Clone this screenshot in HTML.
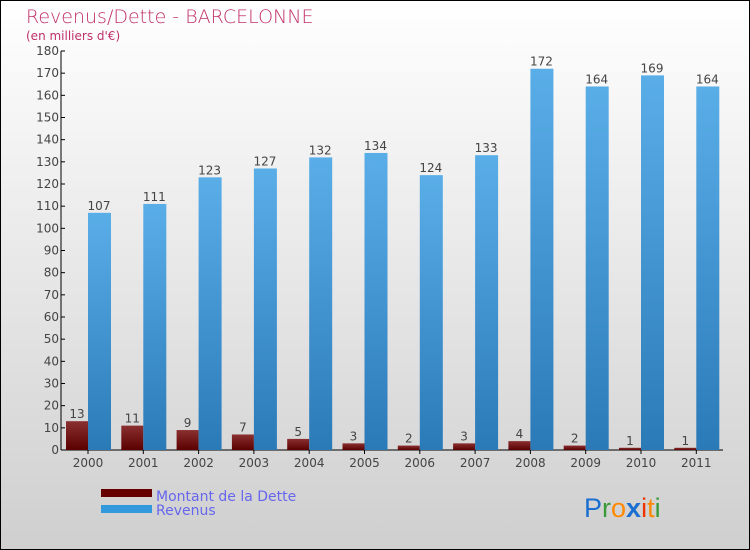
<!DOCTYPE html>
<html><head><meta charset="utf-8"><style>
body{margin:0}
#c{width:748px;height:548px;border:1px solid #000;position:relative;overflow:hidden;background:linear-gradient(#ffffff,#cfcfcf);font-family:"DejaVu Sans","Liberation Sans",sans-serif}
</style></head><body>
<div id="c">
<svg id="s" width="748" height="548">
<defs>
<linearGradient id="gr" x1="0" y1="0" x2="0" y2="1"><stop offset="0" stop-color="#5aaee8"/><stop offset="1" stop-color="#2a7ab8"/></linearGradient>
<linearGradient id="gd" x1="0" y1="0" x2="0" y2="1"><stop offset="0" stop-color="#8a3030"/><stop offset="1" stop-color="#5a0000"/></linearGradient>
</defs>
<text x="25" y="22" font-size="19" fill="#c0306a" font-weight="200">Revenus/Dette - BARCELONNE</text>
<text x="25" y="39" font-size="12" fill="#c0306a">(en milliers d'€)</text>
<g id="ax"></g><g id="bars"></g>
<rect x="100" y="488" width="51" height="8" fill="#660000"/>
<rect x="100" y="504" width="51" height="8" fill="#3399dd"/>
<text x="155" y="500" font-size="14" fill="#6666ee">Montant de la Dette</text>
<text x="155" y="514" font-size="14" fill="#6666ee">Revenus</text>
<text x="583" y="516" font-size="27" font-family="Liberation Sans,sans-serif"><tspan fill="#1a6fd0">P</tspan><tspan fill="#3a9a3a">r</tspan><tspan fill="#ff8800">o</tspan><tspan fill="#1a6fd0" font-weight="bold">x</tspan><tspan fill="#ee3300">i</tspan><tspan fill="#ff8800">t</tspan><tspan fill="#3a9a3a">i</tspan></text>
</svg></div>
<script>
const years=["2000","2001","2002","2003","2004","2005","2006","2007","2008","2009","2010","2011"];
const dette=[13,11,9,7,5,3,2,3,4,2,1,1];
const revenus=[107,111,123,127,132,134,124,133,172,164,169,164];
const ticks=[0,10,20,30,40,50,60,70,80,90,100,110,120,130,140,150,160,170,180];
const NS="http://www.w3.org/2000/svg";
const x0=60,yb=449,ytop=50,ymax=180,step=55.3,bw=22;
const y=v=>yb-(v/ymax)*(yb-ytop);
const cx=i=>87+i*step;
function mk(t,a,p){const e=document.createElementNS(NS,t);for(const k in a)e.setAttribute(k,a[k]);p.appendChild(e);return e;}
const ax=document.getElementById('ax'),bars=document.getElementById('bars');
const l1=mk('line',{x1:x0,y1:ytop,x2:x0,y2:yb,stroke:'#000'},ax);


const l2=mk('line',{x1:x0,y1:yb,x2:722,y2:yb,stroke:'#000'},ax);


ticks.forEach(t=>{mk('line',{x1:x0,y1:y(t),x2:x0+4,y2:y(t),stroke:'#000'},ax);
const tx=mk('text',{x:x0-2,y:y(t)+4,'font-size':12,fill:'#444','text-anchor':'end'},ax);tx.textContent=t;

});
years.forEach((yr,i)=>{const c=cx(i);
mk('line',{x1:c,y1:yb,x2:c,y2:yb+4,stroke:'#000'},ax);
const tl=mk('text',{x:c,y:yb+17,'font-size':12,fill:'#444','text-anchor':'middle'},ax);tl.textContent=yr;


const d=mk('rect',{x:c-bw,y:y(dette[i]),width:bw,height:yb-y(dette[i]),fill:'url(#gd)'},bars);


const r=mk('rect',{x:c,y:y(revenus[i]),width:bw+1,height:yb-y(revenus[i]),fill:'url(#gr)'},bars);


const dl=mk('text',{x:c-bw/2,y:y(dette[i])-3,'font-size':12,fill:'#444','text-anchor':'middle'},bars);dl.textContent=dette[i];


const rl=mk('text',{x:c+bw/2,y:y(revenus[i])-3,'font-size':12,fill:'#444','text-anchor':'middle'},bars);rl.textContent=revenus[i];

});
</script>
</body></html>
